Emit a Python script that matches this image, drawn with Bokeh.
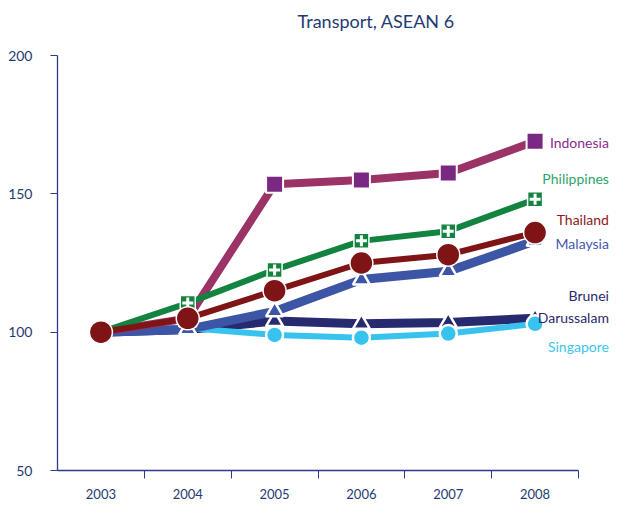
from bokeh.plotting import figure
from bokeh.models import FixedTicker, Range1d, ColumnDataSource
from bokeh.core.properties import value
from bokeh.embed import file_html
from bokeh.resources import INLINE

years = ["2003", "2004", "2005", "2006", "2007", "2008"]
x_pos = [1, 2, 3, 4, 5, 6]

indonesia = [100, 105, 153.5, 155, 157.5, 169]
philippines = [100, 110.5, 122.5, 133, 136.5, 148]
thailand = [100, 105, 115, 125, 128, 136]
malaysia = [100, 101, 107.5, 119, 122, 133]
brunei = [100, 101, 104, 103, 103.5, 105]
singapore = [100, 101.5, 99, 98, 99.5, 103]

names = ["Indonesia", "Philippines", "Thailand", "Malaysia", "Brunei\nDarussalam", "Singapore"]
label_y = [168.4, 155.5, 140.7, 132, 109.3, 94.8]
chart_title = ["Transport, ASEAN 6"]

FONT = "Lato"
p = figure(width=609, height=504, output_backend="svg", toolbar_location=None,
           x_range=Range1d(0.5, 6.857), y_range=Range1d(50, 219.88),
           min_border_left=57, min_border_right=0, min_border_top=0, min_border_bottom=34)
p.outline_line_color = None
p.grid.visible = False
p.background_fill_color = "white"

p.text(x=[4.17], y=[212.65], text=chart_title, text_align="center",
       text_baseline="middle", text_font=value(FONT), text_font_size="18px",
       text_color="#1F3B73")

axis_col = "#2B3A8C"
xa = p.xaxis[0]
xa.bounds = (0.5, 6.5)
xa.ticker = FixedTicker(ticks=x_pos, minor_ticks=[1.5, 2.5, 3.5, 4.5, 5.5, 6.5])
xa.major_label_overrides = {x: y for x, y in zip(x_pos, years)}
xa.major_tick_out = 0
xa.major_tick_in = 0
xa.minor_tick_out = 8
xa.minor_tick_in = 0
xa.minor_tick_line_color = axis_col
xa.axis_line_color = axis_col
xa.axis_line_width = 1.3
xa.major_label_standoff = 10
xa.major_label_text_font = FONT
xa.major_label_text_font_size = "13px"
xa.major_label_text_color = "#1F3B73"

ya = p.yaxis[0]
ya.bounds = (50, 200)
ya.ticker = FixedTicker(ticks=[50, 100, 150, 200])
ya.minor_tick_line_color = None
ya.major_tick_out = 7
ya.major_tick_in = 0
ya.major_tick_line_color = axis_col
ya.axis_line_color = axis_col
ya.axis_line_width = 1.3
ya.major_label_standoff = 18
ya.major_label_text_font = FONT
ya.major_label_text_font_size = "14px"
ya.major_label_text_color = "#1F3B73"

# Brunei
p.line(x_pos, brunei, line_color="#272A6E", line_width=9)
p.scatter(x_pos, brunei, marker="triangle", size=17, fill_color="#272A6E", line_color="white", line_width=2.5)
# Singapore
p.line(x_pos, singapore, line_color="#38C3EE", line_width=6)
p.scatter(x_pos, singapore, marker="circle", size=17, fill_color="#38C3EE", line_color="white", line_width=2.5)
# Malaysia
p.line(x_pos, malaysia, line_color="#3C55A5", line_width=9)
p.scatter(x_pos, malaysia, marker="triangle", size=17, fill_color="#3C55A5", line_color="white", line_width=2.5)
# Indonesia
p.line(x_pos, indonesia, line_color="#9B3366", line_width=8)
p.scatter(x_pos, indonesia, marker="square", size=17, fill_color="#7B2882", line_color="white", line_width=2)
# Philippines
p.line(x_pos, philippines, line_color="#13843F", line_width=6)
p.scatter(x_pos, philippines, marker="square", size=15, fill_color="#13843F", line_color="white", line_width=1.5)
p.scatter(x_pos, philippines, marker="cross", size=11, fill_color=None, line_color="white", line_width=3)
# Thailand
p.line(x_pos, thailand, line_color="#7F1416", line_width=6)
p.scatter(x_pos, thailand, marker="circle", size=23, fill_color="#7F1416", line_color="white", line_width=1.5)

label_colors = ["#8B2C8F", "#2DA56A", "#8B1A1A", "#4458B0", "#2A2A6E", "#3DC5F0"]
src = ColumnDataSource(dict(x=[6.85] * 6, y=label_y, t=names, c=label_colors))
p.text(x="x", y="y", text="t", text_color="c", source=src, text_align="right",
       text_baseline="middle", text_font=value(FONT), text_font_size="14px",
       text_line_height=1.25)

open("out.html", "w").write(file_html(p, INLINE))
